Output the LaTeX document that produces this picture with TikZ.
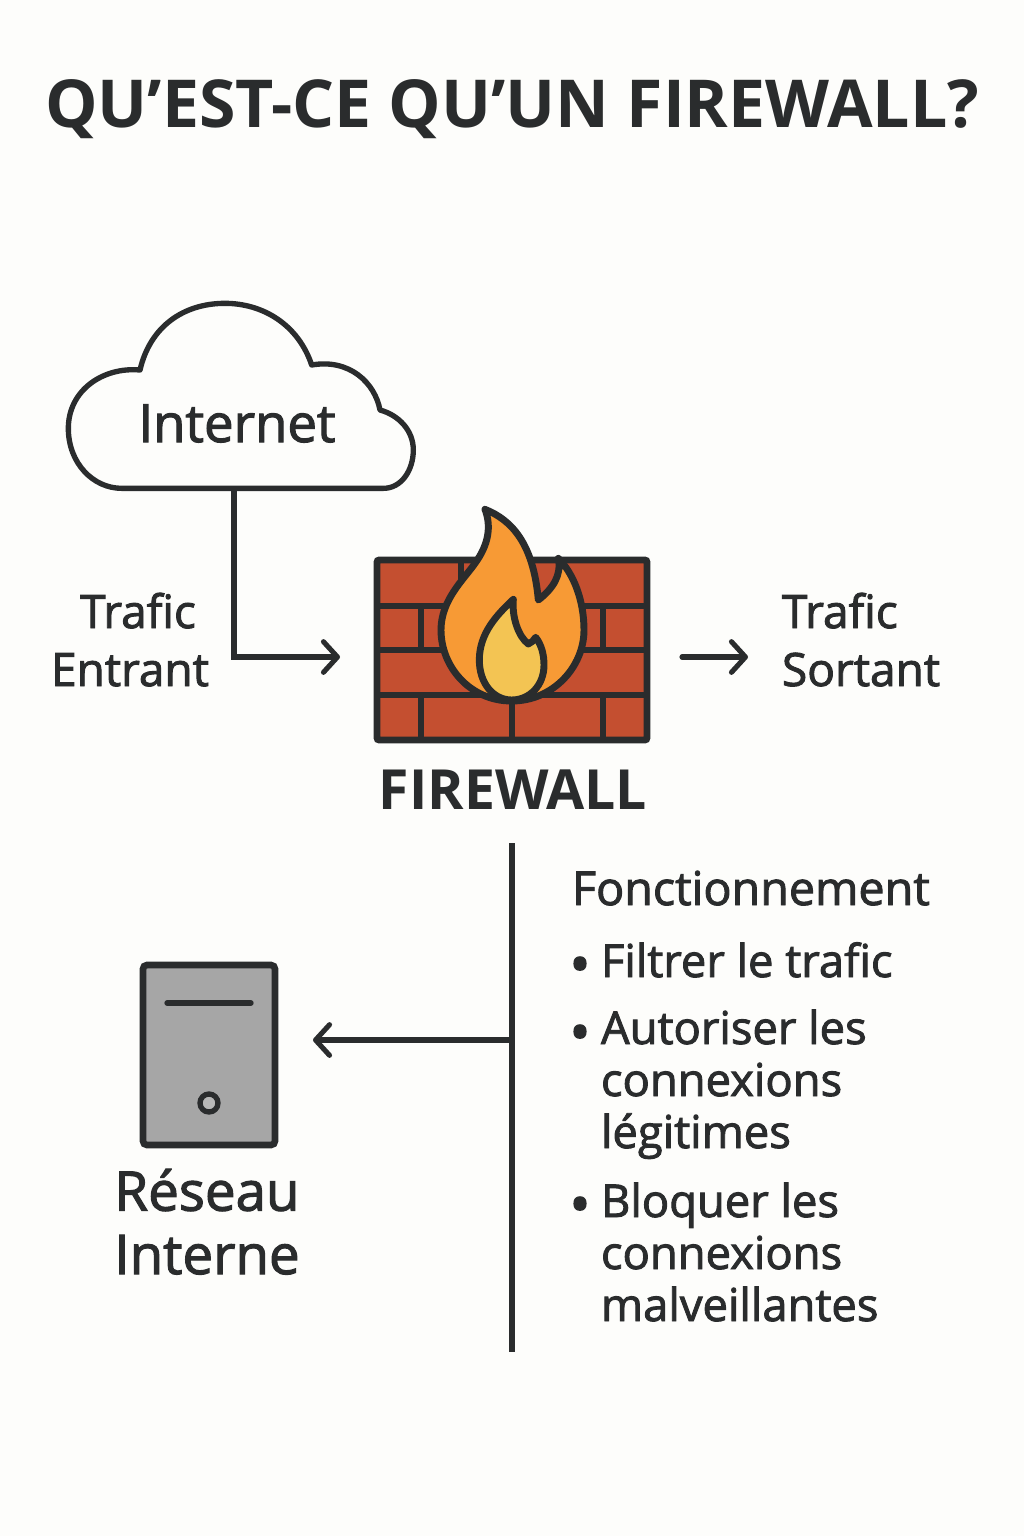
\documentclass[tikz,border=0pt]{standalone}
\usepackage{fontspec}
\setmainfont{Open Sans}[FakeBold=2]
\newfontfamily\titlefont{Open Sans}[BoldFont={Open Sans Bold}]
\usetikzlibrary{arrows.meta}
\definecolor{ink}{HTML}{2A2C2D}
\definecolor{paper}{HTML}{FDFDFB}
\definecolor{brick}{HTML}{C44F30}
\definecolor{flameout}{HTML}{F79A35}
\definecolor{flamein}{HTML}{F3C453}
\definecolor{casegray}{HTML}{A6A6A6}
\tikzset{
 lbl/.style={text=ink,inner sep=0pt,outer sep=0pt,anchor=base west},
 lblc/.style={text=ink,inner sep=0pt,outer sep=0pt,anchor=base},
 wire/.style={draw=ink,line width=3.8pt},
 flow/.style={wire,line cap=round,line join=miter,-{Straight Barb[length=10.5pt,width=23pt,line width=3.8pt,round]}},
 mortar/.style={draw=ink,line width=5pt},
 listfont/.style={font=\fontsize{34}{39}\selectfont},
 bulletfont/.style={font=\fontsize{42}{39}\selectfont},
}
\begin{document}
\begin{tikzpicture}[x=0.75pt,y=-0.75pt]
\useasboundingbox (0,0) rectangle (1024,1536);
\fill[paper] (0,0) rectangle (1024,1536);
% title
\node[lblc] (title) at (512,127) {\titlefont\fontsize{49.6}{52}\selectfont\bfseries QU’EST-CE QU’UN FIREWALL?};
% cloud
\begin{scope}[shift={(50,290)},x=0.25pt,y=-0.25pt]
\draw[draw=ink,line width=4pt,line join=round,fill=paper]
 (215,595) -- (1000,595)
 .. controls (1055,595) and (1090,540) .. (1090,480)
 .. controls (1090,420) and (1045,375) .. (990,360)
 .. controls (975,280) and (900,205) .. (785,225)
 .. controls (745,105) and (640,40) .. (525,40)
 .. controls (400,40) and (300,110) .. (270,240)
 .. controls (160,230) and (55,300) .. (55,415)
 .. controls (55,520) and (130,595) .. (215,595) -- cycle;
\end{scope}
\coordinate (cloudout) at (234,490);
\node[lblc,font=\fontsize{39.5}{42}\selectfont] (internet) at (237,442) {Internet};
% wall
\fill[brick] (377,560) rectangle (647,740);
\foreach \yy in {606,650,695} \draw[mortar] (377,\yy) -- (647,\yy);
\draw[mortar] (461,560) -- (461,606);
\draw[mortar] (421,606) -- (421,650);
\draw[mortar] (603,606) -- (603,650);
\draw[mortar] (421,695) -- (421,740);
\draw[mortar] (512,695) -- (512,740);
\draw[mortar] (603,695) -- (603,740);
\draw[draw=ink,line width=5pt,rounded corners=1.5pt] (377,560) rectangle (647,740);
% flames
\begin{scope}[shift={(360,500)},x=0.25pt,y=-0.25pt]
\draw[draw=ink,line width=5.2pt,line join=round,fill=flameout]
 (375,28)
 .. controls (455,60) and (520,130) .. (535,300)
 .. controls (580,265) and (605,225) .. (595,175)
 .. controls (640,220) and (672,300) .. (672,390)
 .. controls (672,500) and (580,603) .. (455,603)
 .. controls (330,603) and (243,500) .. (243,390)
 .. controls (243,300) and (310,240) .. (345,190)
 .. controls (385,135) and (395,80) .. (375,28) -- cycle;
\draw[draw=ink,line width=5.2pt,line join=round,fill=flamein]
 (460,298)
 .. controls (455,350) and (475,410) .. (505,432)
 .. controls (515,428) and (522,420) .. (527,412)
 .. controls (545,435) and (552,465) .. (552,495)
 .. controls (552,555) and (510,600) .. (455,600)
 .. controls (400,600) and (358,550) .. (358,480)
 .. controls (358,400) and (410,345) .. (460,298) -- cycle;
\end{scope}
\coordinate (wallin) at (340,657);
\coordinate (wallout) at (682,657);
\coordinate (outtip) at (748,657);
\node[lblc,font=\titlefont\fontsize{41.5}{44}\selectfont\bfseries] (fw) at (513,809) {FIREWALL};
% labels
\node[lblc,align=center,font=\fontsize{34.5}{43.5}\selectfont] (tin) at (130,686) {\hspace*{12pt}Trafic\\Entrant};
\node[lbl,align=left,font=\fontsize{34.5}{43.5}\selectfont] (tout) at (782,686) {Trafic\\Sortant};
% connectors
\draw[flow] (cloudout) |- (wallin);
\draw[flow] (wallout) -- (outtip);
\coordinate (vtop) at (512,843);
\coordinate (vbot) at (512,1352);
\coordinate (vmid) at (512,1040);
\coordinate (srvin) at (313,1040);
\draw[wire] (vtop) -- (vbot);
\draw[flow] (vmid) -- (srvin);
% server
\draw[draw=ink,line width=5pt,fill=casegray,rounded corners=3pt] (143,965) rectangle (275,1145);
\draw[draw=ink,line width=4pt,line cap=round] (167,1003) -- (251,1003);
\draw[draw=ink,line width=4pt,fill=casegray!80!white] (209,1103) circle (9);
\node[lblc,align=center,font=\fontsize{41}{47.5}\selectfont] (res) at (207,1274) {Réseau\\Interne};
% list
\node[lbl,font=\fontsize{35}{39}\selectfont] (fn) at (572,905) {Fonctionnement};
\node[lblc,bulletfont] (b1) at (580,984) {•};
\node[lbl,listfont] (i1) at (601,977) {Filtrer le trafic\hspace{0pt}};
\node[lblc,bulletfont] (b2) at (580,1052) {•};
\node[lbl,align=left,listfont] (i2) at (601,1148) {Autoriser les\\connexions\\légitimes};
\node[lblc,bulletfont] (b3) at (580,1224) {•};
\node[lbl,align=left,listfont] (i3) at (601,1321) {Bloquer les\\connexions\\malveillantes};
\end{tikzpicture}
\end{document}
